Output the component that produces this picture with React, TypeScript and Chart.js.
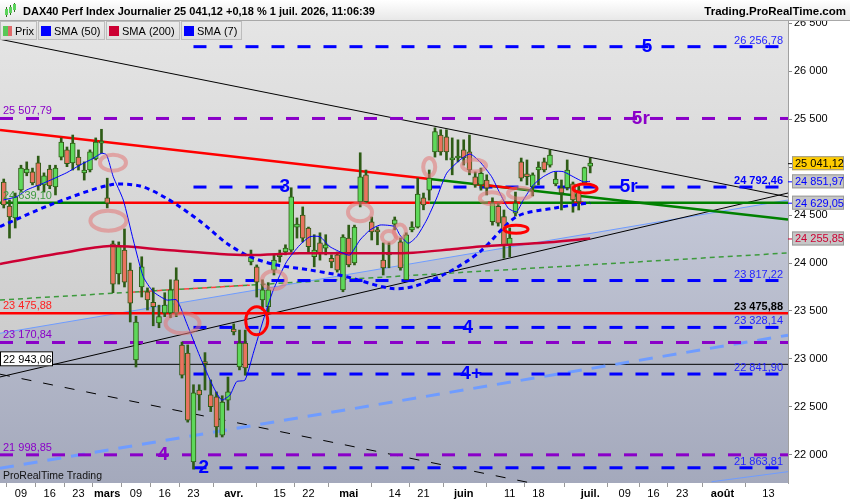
import React, { useEffect, useRef } from 'react';
import { Chart, registerables } from 'chart.js';

Chart.register(...registerables);

const FONT = '"Liberation Sans", Arial, Helvetica, sans-serif';

// ---------- axes (x = trading-day index, 0 = 9 Feb 2026) ----------
const X_MIN = -3.65;
const X_MAX = 133.4;
const xTickIdx = [0, 5, 10, 15, 20, 25, 30, 37, 45, 50, 57, 65, 70, 77, 85, 90, 99, 105, 110, 115, 122, 130];
const xTickLabels = ['09', '16', '23', 'mars', '09', '16', '23', 'avr.', '15', '22', 'mai', '14', '21', 'juin', '11', '18', 'juil.', '09', '16', '23', 'août', '13'];
const monthLabels = ['mars', 'avr.', 'mai', 'juin', 'juil.', 'août'];

const Y_MIN = 21705;
const Y_MAX = 26535;
const yTicks = [22000, 22500, 23000, 23500, 24000, 24500, 25000, 25500, 26000, 26500];

// ---------- daily candles ----------
const candleIdx = [-3, -2, -1, 0, 1, 2, 3, 4, 5, 6, 7, 8, 9, 10, 11, 12, 13, 14, 15, 16, 17, 18, 19, 20, 21, 22, 23, 24, 25, 26, 27, 28, 29, 30, 31, 32, 33, 34, 35, 36, 37, 38, 39, 40, 41, 42, 43, 44, 45, 46, 47, 48, 49, 50, 51, 52, 53, 54, 55, 56, 57, 58, 59, 60, 61, 62, 63, 64, 65, 66, 67, 68, 69, 70, 71, 72, 73, 74, 75, 76, 77, 78, 79, 80, 81, 82, 83, 84, 85, 86, 87, 88, 89, 90, 91, 92, 93, 94, 95, 96, 97, 98, 99];
const opens = [24845, 24595, 24470, 24762, 24940, 24950, 25045, 24815, 24980, 24795, 25105, 25180, 25045, 25105, 24940, 24970, 25085, 25250, 24680, 24200, 23885, 24135, 23925, 22990, 23750, 23700, 23590, 23375, 23480, 23480, 23825, 23145, 23060, 21925, 22675, 22970, 22625, 22605, 22205, 22570, 23310, 22915, 23165, 24010, 23960, 23615, 23545, 23925, 24065, 24115, 24135, 24375, 24500, 24365, 24065, 24210, 24155, 24050, 24085, 23720, 24260, 24000, 24640, 24920, 24430, 24335, 24030, 24085, 24405, 24220, 23825, 24345, 24375, 24680, 24760, 25160, 25335, 25315, 25075, 25095, 25180, 25160, 24900, 24815, 24866, 24430, 24590, 24483, 24188, 24520, 25055, 24930, 24795, 24970, 25055, 25020, 24825, 24785, 24785, 24825, 24762, 24835, 25010];
const highs = [24876, 24657, 24730, 25020, 25055, 24990, 25115, 24940, 25020, 25020, 25305, 25210, 25335, 25180, 25055, 25180, 25305, 25395, 24885, 24230, 24220, 24355, 24000, 23445, 24065, 23740, 23740, 23560, 23690, 23825, 23950, 23175, 23145, 22730, 22730, 23065, 22780, 22655, 22615, 22810, 23365, 23300, 23300, 24135, 23980, 23825, 23795, 24085, 24135, 24190, 24785, 24470, 24585, 24375, 24295, 24315, 24295, 24085, 24115, 24295, 24395, 24395, 25150, 24970, 24480, 24375, 24210, 24210, 24480, 24260, 24315, 24430, 24885, 24730, 24970, 25410, 25390, 25390, 25305, 25285, 25285, 25335, 24950, 24990, 24920, 24680, 24625, 24553, 24365, 24740, 25095, 25075, 24940, 25055, 25095, 25180, 24950, 24866, 25075, 24845, 24815, 25000, 25095];
const lows = [24574, 24260, 24365, 24740, 24910, 24815, 24760, 24740, 24775, 24710, 25075, 25005, 24970, 24970, 24865, 24950, 25075, 25145, 24575, 23690, 23780, 23750, 23385, 22915, 23645, 23510, 23345, 23325, 23440, 23430, 23440, 22800, 22340, 21850, 22465, 22675, 22450, 22185, 22185, 22465, 23250, 22885, 22830, 23980, 23645, 23510, 23490, 23875, 24010, 24085, 24115, 24260, 24220, 24115, 23960, 24030, 24085, 23950, 23905, 23700, 23960, 23980, 24585, 24625, 24240, 24190, 23875, 23950, 24345, 23925, 23825, 24325, 24365, 24555, 24655, 25105, 25125, 25075, 24920, 25055, 25022, 24920, 24790, 24760, 24710, 24395, 24385, 24050, 24065, 24490, 24855, 24815, 24700, 24815, 24950, 25000, 24805, 24553, 24762, 24530, 24553, 24815, 24940];
const closes = [24605, 24480, 24690, 24990, 24980, 24835, 24805, 24910, 24805, 24990, 25262, 25035, 25250, 25020, 24970, 25160, 25262, 25270, 24625, 23780, 24180, 23800, 23580, 23385, 23960, 23615, 23545, 23440, 23560, 23720, 23480, 22830, 22360, 22645, 22625, 22950, 22500, 22290, 22550, 22655, 23280, 23165, 22905, 24065, 23800, 23720, 23720, 24030, 24075, 24155, 24690, 24405, 24260, 24170, 24135, 24105, 24190, 24010, 23925, 24270, 23980, 24375, 24900, 24640, 24325, 24325, 23950, 24115, 24450, 23950, 24295, 24375, 24720, 24605, 24885, 25370, 25160, 25160, 25085, 25115, 25095, 24970, 24815, 24935, 24780, 24625, 24415, 24188, 24260, 24625, 24885, 24900, 24920, 25000, 24970, 25125, 24875, 24730, 24970, 24657, 24637, 24996, 25041.12];

// ---------- moving averages (read points) ----------
const sma200Idx = [-3.65, 6.78, 15.48, 25.3, 34.6, 39.8, 48.5, 62.4, 68.2, 74.6, 79.8, 90.3, 99];
const sma200Val = [23990, 24101, 24177, 24136, 24094, 24083, 24101, 24101, 24107, 24141, 24172, 24209, 24256];
const sma50Idx = [-3.65, 5.04, 15.5, 20.7, 25.3, 31.1, 35.8, 39.8, 44.5, 50.3, 56.6, 64.2, 68.2, 74.0, 79.8, 86.2, 92.6, 99];
const sma50Val = [24379, 24605, 24814, 24803, 24675, 24438, 24205, 24066, 23979, 23927, 23857, 23736, 23753, 23893, 24116, 24483, 24571, 24629];
const sma7Idx = [-3.08, -0.75, 0.99, 3.88, 7.95, 10.26, 12.57, 14.03, 14.9, 16.05, 17.79, 19.53, 21.27, 23.0, 25.34, 27.08, 28.82, 31.13, 33.44, 34.9, 36.35, 37.51, 38.96, 40.4, 42.14, 43.88, 46.2, 48.5, 50.26, 52.0, 53.74, 56.05, 57.2, 58.96, 60.7, 62.43, 65.04, 65.9, 67.36, 68.8, 70.56, 72.3, 74.03, 76.35, 78.1, 79.8, 81.86, 83.3, 84.75, 86.2, 87.36, 89.1, 90.83, 92.57, 94.3, 96.05, 97.8, 98.96];
const sma7Val = [24657, 24692, 24762, 24832, 24942, 25022, 25092, 25145, 25127, 24900, 24657, 24240, 23857, 23701, 23614, 23614, 23371, 23023, 22709, 22571, 22623, 22762, 22779, 23058, 23405, 23718, 24014, 24188, 24274, 24274, 24170, 24101, 24083, 24240, 24344, 24396, 24379, 24292, 24206, 24274, 24449, 24678, 24936, 25075, 25137, 25057, 24900, 24727, 24571, 24535, 24657, 24814, 24900, 24953, 24953, 24900, 24848, 24852];

// ---------- drawn trend lines (two anchor points each) ----------
const upperBlackIdx = [X_MIN, X_MAX];
const upperBlackVal = [26334, 24689];
const lowerBlackIdx = [X_MIN, X_MAX];
const lowerBlackVal = [22811, 24730];
const blackDashIdx = [X_MIN, X_MAX];
const blackDashVal = [22840, 21156];
const lightBlueIdx = [X_MIN, X_MAX];
const lightBlueVal = [23267, 24657];
const lightBlueDashIdx = [X_MIN, X_MAX];
const lightBlueDashVal = [21858, 23247];
const lightBlueLowIdx = [120.1, X_MAX];
const lightBlueLowVal = [21718, 21823];
const greenDashIdx = [X_MIN, X_MAX];
const greenDashVal = [23614, 24105];
const redDashIdx = [19, 39.8];
const redDashVal = [23695, 23769];
const resistRedIdx = [X_MIN, 71.1];
const resistRedVal = [25388, 24877];
const resistGreenIdx = [71.1, X_MAX];
const resistGreenVal = [24877, 24454];
const resistRedBitIdx = [78.6, 86.3];
const resistRedBitVal = [24827, 24775];

// ---------- horizontal levels ----------
const blueLevels = [26256.78, 24792.46, 23817.22, 23328.14, 22841.9, 21863.81];
const blueLevelStart = 30;
const purpleLevels = [25507.79, 23170.84, 21998.85];
const redLevel = 23475.88;
const blackLevel = 22943.06;
const midLevel = 24629.05;
const midGreenIdx = [X_MIN, 15];
const midRedIdx = [15, 71.1];
const midGreen2Idx = [71.1, X_MAX];
const midRedBits = [[81.2, 86.8], [96.1, 97.8]];

// ---------- annotation marks ----------
const ellipseMarks = [
  { idx: 16.0, val: 25046, rx: 13, ry: 8, kind: 'pink' },
  { idx: 15.2, val: 24441, rx: 18, ry: 10, kind: 'pink' },
  { idx: 28.1, val: 23371, rx: 17, ry: 10, kind: 'pink' },
  { idx: 44.0, val: 23823, rx: 12, ry: 9, kind: 'pink' },
  { idx: 58.96, val: 24529, rx: 12, ry: 9, kind: 'pink' },
  { idx: 64.0, val: 24271, rx: 7, ry: 6, kind: 'pink' },
  { idx: 65.9, val: 24328, rx: 6, ry: 7, kind: 'pink' },
  { idx: 71.0, val: 25002, rx: 6, ry: 9, kind: 'pink' },
  { idx: 78.8, val: 25017, rx: 12, ry: 6, kind: 'pink' },
  { idx: 81.9, val: 24675, rx: 12, ry: 6, kind: 'pink' },
  { idx: 86.8, val: 24727, rx: 12, ry: 5.5, kind: 'pink' },
  { idx: 41.0, val: 23398, rx: 11, ry: 14, kind: 'red' },
  { idx: 86.1, val: 24352, rx: 12, ry: 4, kind: 'red' },
  { idx: 98.1, val: 24777, rx: 12, ry: 4.5, kind: 'red' },
];

const BLUE = '#0000ff';
const PURPLE = '#8a00c8';
const CRIMSON = '#cc0033';

const leftLabels = [
  { val: 25507.79, text: '25 507,79', color: PURPLE },
  { val: 24629.05, text: '24 639,10', color: '#3d9a3d' },
  { val: 23475.88, text: '23 475,88', color: '#ff2020' },
  { val: 23170.84, text: '23 170,84', color: PURPLE },
  { val: 21998.85, text: '21 998,85', color: PURPLE },
];
const rightLabels = [
  { val: 26256.78, text: '26 256,78', color: '#2424ff', bold: false },
  { val: 24792.46, text: '24 792,46', color: BLUE, bold: true },
  { val: 23817.22, text: '23 817,22', color: '#2424ff', bold: false },
  { val: 23475.88, text: '23 475,88', color: '#000000', bold: true },
  { val: 23328.14, text: '23 328,14', color: '#2424ff', bold: false },
  { val: 22841.9, text: '22 841,90', color: '#2424ff', bold: false },
  { val: 21863.81, text: '21 863,81', color: '#2424ff', bold: false },
];
const bigLabels = [
  { idx: 108.9, val: 26256.78, text: '5', color: BLUE },
  { idx: 107.8, val: 25507.79, text: '5r', color: PURPLE },
  { idx: 45.9, val: 24792.46, text: '3', color: BLUE },
  { idx: 105.7, val: 24792.46, text: '5r', color: BLUE },
  { idx: 77.7, val: 23328.14, text: '4', color: BLUE },
  { idx: 78.3, val: 22841.9, text: '4+', color: BLUE },
  { idx: 24.7, val: 21998.85, text: '4', color: PURPLE },
  { idx: 31.8, val: 21863.81, text: '2', color: BLUE },
];
const priceBoxes = [
  { val: 25041.12, text: '25 041,12', fill: '#ffcc00', color: '#000000' },
  { val: 24851.97, text: '24 851,97', fill: '#c6c6c6', color: BLUE },
  { val: 24629.05, text: '24 629,05', fill: '#c6c6c6', color: BLUE },
  { val: 24255.85, text: '24 255,85', fill: '#c6c6c6', color: CRIMSON },
];
const legendItems = [
  { label: 'Prix', x: 0, w: 37, color: '' },
  { label: 'SMA (50)', x: 38, w: 67, color: BLUE },
  { label: 'SMA (200)', x: 106, w: 74, color: CRIMSON },
  { label: 'SMA (7)', x: 181, w: 61, color: BLUE },
];
const titleText = 'DAX40 Perf Index Journalier 25 041,12 +0,18 % 1 juil. 2026, 11:06:39';
const siteText = 'Trading.ProRealTime.com';

const fmt = (v: number) => String(v).replace(/\B(?=(\d{3})+(?!\d))/g, ' ');

const pts = (xs: number[], ys: number[]) => xs.map((x, k) => ({ x, y: ys[k] }));

const lineDs = (data: any[], color: string, width: number, dash: number[] = [], order = 50, extra: any = {}) => ({
  type: 'line',
  data,
  borderColor: color,
  borderWidth: width,
  borderDash: dash,
  pointRadius: 0,
  pointHoverRadius: 0,
  fill: false,
  tension: 0,
  order,
  clip: 0,
  ...extra,
});

const bgPlugin = {
  id: 'bgPlugin',
  beforeDraw(chart: any) {
    const { ctx, chartArea: a } = chart;
    ctx.save();
    ctx.fillStyle = '#ffffff';
    ctx.fillRect(0, 0, chart.width, chart.height);
    const g = ctx.createLinearGradient(0, a.top, 0, a.bottom);
    g.addColorStop(0, '#e5e5e5');
    g.addColorStop(1, '#c2c2c2');
    ctx.fillStyle = g;
    ctx.fillRect(a.left, a.top, a.right - a.left, a.bottom - a.top);
    ctx.restore();
  },
};

const annotPlugin = {
  id: 'annotPlugin',
  afterDatasetsDraw(chart: any) {
    const { ctx, chartArea: a, scales } = chart;
    const xs = scales.x;
    const ys = scales.y;
    ctx.save();
    ctx.beginPath();
    ctx.rect(a.left, a.top, a.right - a.left, a.bottom - a.top);
    ctx.clip();
    for (const e of ellipseMarks) {
      ctx.beginPath();
      ctx.ellipse(xs.getPixelForValue(e.idx), ys.getPixelForValue(e.val), e.rx, e.ry, 0, 0, Math.PI * 2);
      if (e.kind === 'red') {
        ctx.strokeStyle = '#ff0000';
        ctx.lineWidth = 3;
      } else {
        ctx.strokeStyle = 'rgba(228,118,118,0.55)';
        ctx.lineWidth = 4;
      }
      ctx.stroke();
    }
    ctx.textBaseline = 'alphabetic';
    ctx.textAlign = 'left';
    ctx.font = `11px ${FONT}`;
    for (const l of leftLabels) {
      ctx.fillStyle = l.color;
      ctx.fillText(l.text, a.left + 3, ys.getPixelForValue(l.val) - 4);
    }
    // black level price tag
    const by = ys.getPixelForValue(blackLevel);
    ctx.fillStyle = '#ffffff';
    ctx.fillRect(a.left, by - 13, 53, 15);
    ctx.strokeStyle = '#000000';
    ctx.lineWidth = 1;
    ctx.strokeRect(a.left + 0.5, by - 12.5, 52, 14);
    ctx.fillStyle = '#000000';
    ctx.fillText('22 943,06', a.left + 3, by - 1);

    ctx.textAlign = 'right';
    for (const l of rightLabels) {
      ctx.font = `${l.bold ? 'bold ' : ''}11px ${FONT}`;
      ctx.fillStyle = l.color;
      ctx.fillText(l.text, a.right - 5, ys.getPixelForValue(l.val) - 3);
    }
    ctx.textAlign = 'center';
    ctx.textBaseline = 'middle';
    ctx.font = `bold 19px ${FONT}`;
    for (const b of bigLabels) {
      ctx.fillStyle = b.color;
      ctx.fillText(b.text, xs.getPixelForValue(b.idx), ys.getPixelForValue(b.val));
    }
    ctx.textAlign = 'left';
    ctx.textBaseline = 'alphabetic';
    ctx.font = `10.5px ${FONT}`;
    ctx.fillStyle = '#111111';
    ctx.fillText('ProRealTime Trading', a.left + 3, a.bottom - 4);
    ctx.restore();
  },
  afterDraw(chart: any) {
    const { ctx, chartArea: a, scales } = chart;
    const ys = scales.y;
    ctx.save();
    // title bar
    const g = ctx.createLinearGradient(0, 0, 0, 20);
    g.addColorStop(0, '#ffffff');
    g.addColorStop(1, '#e8e8e8');
    ctx.fillStyle = g;
    ctx.fillRect(0, 0, chart.width, 20);
    ctx.strokeStyle = '#a8a8a8';
    ctx.beginPath();
    ctx.moveTo(0, 20.5);
    ctx.lineTo(chart.width, 20.5);
    ctx.stroke();
    // small candle icon
    const icon = [[6, 9, 15, 7, 17], [10, 7, 13, 5, 15], [14, 4, 10, 3, 12]];
    for (const [cx, t, b, h, l] of icon) {
      ctx.strokeStyle = '#2f6b1e';
      ctx.beginPath();
      ctx.moveTo(cx + 0.5, h);
      ctx.lineTo(cx + 0.5, l);
      ctx.stroke();
      ctx.fillStyle = '#5bd35b';
      ctx.fillRect(cx - 1, t, 3, b - t);
    }
    ctx.fillStyle = '#000000';
    ctx.font = `bold 11px ${FONT}`;
    ctx.textBaseline = 'alphabetic';
    ctx.textAlign = 'left';
    ctx.fillText(titleText, 23, 15);
    ctx.textAlign = 'right';
    ctx.font = `bold 11.5px ${FONT}`;
    ctx.fillText(siteText, chart.width - 4, 15);

    // legend boxes
    ctx.textAlign = 'left';
    ctx.font = `11px ${FONT}`;
    for (const it of legendItems) {
      const lg = ctx.createLinearGradient(0, 21, 0, 40);
      lg.addColorStop(0, '#ececec');
      lg.addColorStop(1, '#dedede');
      ctx.fillStyle = lg;
      ctx.fillRect(it.x, 21, it.w, 19);
      ctx.strokeStyle = '#bcbcbc';
      ctx.strokeRect(it.x + 0.5, 21.5, it.w - 1, 18);
      if (it.color) {
        ctx.fillStyle = it.color;
        ctx.fillRect(it.x + 3, 26, 10, 10);
        ctx.fillStyle = '#000000';
        ctx.fillText(it.label, it.x + 16, 35);
      } else {
        ctx.fillStyle = '#58c858';
        ctx.fillRect(it.x + 3, 26, 5, 10);
        ctx.fillStyle = '#e06a6a';
        ctx.fillRect(it.x + 8, 26, 4, 10);
        ctx.fillStyle = '#000000';
        ctx.fillText(it.label, it.x + 15, 35);
      }
    }

    // price boxes on the right axis
    for (const p of priceBoxes) {
      const py = ys.getPixelForValue(p.val);
      ctx.strokeStyle = p.color;
      ctx.beginPath();
      ctx.moveTo(a.right, py + 0.5);
      ctx.lineTo(a.right + 4, py + 0.5);
      ctx.stroke();
      ctx.fillStyle = p.fill;
      ctx.fillRect(a.right + 4, py - 7, 52, 14);
      ctx.strokeStyle = '#9a9a9a';
      ctx.strokeRect(a.right + 4.5, py - 6.5, 51, 13);
      ctx.fillStyle = p.color;
      ctx.font = `11px ${FONT}`;
      ctx.fillText(p.text, a.right + 7, py + 4);
    }
    ctx.restore();
  },
};

export default function App() {
  const ref = useRef<HTMLCanvasElement | null>(null);

  useEffect(() => {
    const canvas = ref.current;
    if (!canvas) return;

    const wickData = candleIdx.map((x, k) => ({ x, y: [lows[k], highs[k]] }));
    const bodyData = candleIdx.map((x, k) => ({ x, y: [opens[k], closes[k]] }));
    const bodyColors = candleIdx.map((_, k) => (closes[k] >= opens[k] ? '#5ed85a' : '#e8735f'));

    const full = (v: number) => pts([X_MIN, X_MAX], [v, v]);

    const datasets: any[] = [
      // shaded zone below light blue support line
      lineDs(pts(lightBlueIdx, lightBlueVal), '#6f9cff', 1, [], 100, {
        fill: 'start',
        backgroundColor: (c: any) => {
          const { ctx, chartArea } = c.chart;
          if (!chartArea) return 'rgba(0,0,0,0)';
          const g = ctx.createLinearGradient(0, chartArea.top + 180, 0, chartArea.bottom);
          g.addColorStop(0, '#c4c8d7');
          g.addColorStop(1, '#a4a9bc');
          return g;
        },
      }),
      lineDs(pts(lightBlueLowIdx, lightBlueLowVal), '#6f9cff', 1, [], 60),
      lineDs(pts(lightBlueDashIdx, lightBlueDashVal), '#6f9cff', 3, [14, 10], 60),
      lineDs(pts(greenDashIdx, greenDashVal), '#3d9a3d', 1.5, [5, 4], 60),
      lineDs(pts(redDashIdx, redDashVal), '#ff4040', 1.5, [5, 4], 59),
      lineDs(pts(upperBlackIdx, upperBlackVal), '#000000', 1, [], 60),
      lineDs(pts(lowerBlackIdx, lowerBlackVal), '#000000', 1, [], 60),
      lineDs(pts(blackDashIdx, blackDashVal), '#000000', 1, [10, 12], 60),
      lineDs(full(blackLevel), '#000000', 1, [], 60),
      ...purpleLevels.map((v) => lineDs(full(v), PURPLE, 3, [13, 13], 58)),
      ...blueLevels.map((v) => lineDs(pts([blueLevelStart, X_MAX], [v, v]), BLUE, 3, [13, 13], 58)),
      lineDs(full(redLevel), '#ff0000', 2.5, [], 57),
      lineDs(pts(midGreenIdx, [midLevel, midLevel]), '#008000', 2.5, [], 57),
      lineDs(pts(midRedIdx, [midLevel, midLevel]), '#ff0000', 2.5, [], 57),
      lineDs(pts(midGreen2Idx, [midLevel, midLevel]), '#008000', 2.5, [], 57),
      ...midRedBits.map((r) => lineDs(pts(r, [midLevel, midLevel]), '#ff0000', 2.5, [], 56)),
      lineDs(pts(resistRedIdx, resistRedVal), '#ff0000', 2.5, [], 57),
      lineDs(pts(resistGreenIdx, resistGreenVal), '#008000', 2.5, [], 57),
      lineDs(pts(resistRedBitIdx, resistRedBitVal), '#ff0000', 2.5, [], 56),
      {
        type: 'bar',
        data: wickData,
        backgroundColor: '#2e5c16',
        borderWidth: 0,
        barThickness: 2,
        grouped: false,
        order: 40,
        clip: 0,
      },
      {
        type: 'bar',
        data: bodyData,
        backgroundColor: bodyColors,
        borderColor: '#2e5c16',
        borderWidth: 1,
        borderSkipped: false,
        barThickness: 5,
        minBarLength: 2,
        grouped: false,
        order: 39,
        clip: 0,
      },
      lineDs(pts(sma200Idx, sma200Val), CRIMSON, 2.5, [], 30, { tension: 0.3 }),
      lineDs(pts(sma50Idx, sma50Val), BLUE, 3, [5, 4], 30, { tension: 0.3 }),
      lineDs(pts(sma7Idx, sma7Val), BLUE, 1, [], 29, { tension: 0.2 }),
    ];

    const chart = new Chart(canvas, {
      type: 'bar',
      data: { datasets },
      options: {
        animation: false,
        responsive: false,
        devicePixelRatio: 1,
        events: [],
        layout: { padding: { top: 20, left: 0, right: 0, bottom: 0 } },
        plugins: { legend: { display: false }, tooltip: { enabled: false } },
        scales: {
          x: {
            type: 'linear',
            min: X_MIN,
            max: X_MAX,
            offset: false,
            afterBuildTicks: (s: any) => {
              s.ticks = xTickIdx.map((v) => ({ value: v }));
            },
            afterFit: (s: any) => {
              s.height = 17;
            },
            grid: { drawOnChartArea: false, drawTicks: true, tickLength: 4, color: '#999999' },
            border: { display: false },
            ticks: {
              autoSkip: false,
              maxRotation: 0,
              minRotation: 0,
              padding: 0,
              color: '#000000',
              callback: (_v: any, i: number) => xTickLabels[i],
              font: (c: any) => ({
                family: FONT,
                size: 11,
                weight: monthLabels.includes(xTickLabels[c.index]) ? 'bold' : 'normal',
              }),
            },
          },
          y: {
            type: 'linear',
            position: 'right',
            min: Y_MIN,
            max: Y_MAX,
            afterBuildTicks: (s: any) => {
              s.ticks = yTicks.map((v) => ({ value: v }));
            },
            afterFit: (s: any) => {
              s.width = 62;
            },
            grid: { drawOnChartArea: false, drawTicks: true, tickLength: 4, color: '#888888' },
            border: { display: true, color: '#a0a0a0' },
            ticks: {
              padding: 2,
              color: '#000000',
              font: { family: FONT, size: 11 },
              callback: (v: any) => fmt(Number(v)),
            },
          },
        },
      } as any,
      plugins: [bgPlugin, annotPlugin],
    } as any);

    return () => chart.destroy();
  }, []);

  return (
    <div style={{ position: 'absolute', left: 0, top: 0, width: 850, height: 500, background: '#fff' }}>
      <canvas ref={ref} width={850} height={500} style={{ width: 850, height: 500, display: 'block' }} />
    </div>
  );
}
